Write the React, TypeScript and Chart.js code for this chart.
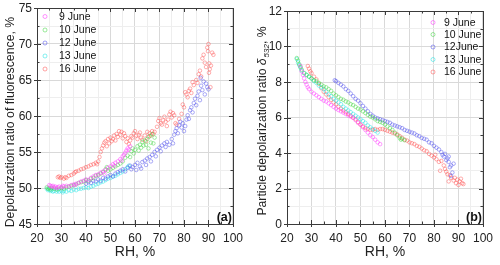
import React, { useEffect, useRef } from 'react';
import { Chart, registerables } from 'chart.js';

Chart.register(...registerables);

const FONT = '"Liberation Sans", Arial, Helvetica, sans-serif';

const seriesNamesA = ['9 June', '10 June', '12 June', '13 June', '16 June'];
const seriesNamesB = ['9 June', '10 June', '12June', '13 June', '16 June'];
const seriesColors = [
  'rgba(255, 70, 255, 0.65)',
  'rgba(70, 215, 70, 0.6)',
  'rgba(80, 80, 235, 0.6)',
  'rgba(50, 230, 230, 0.65)',
  'rgba(255, 85, 85, 0.6)',
];

const xTitle = 'RH, %';
const yTitleA = 'Depolarization ratio of fluorescence, %';
const yTitleB = ['Particle depolarization ratio ', 'δ', '532', ', %'];
const panelA = '(a)';
const panelB = '(b)';

// ---- Panel (a): fluorescence depolarization ratio vs RH ----
const fl9 = [[25,50.4],[25.5,50.3],[26,50.2],[26.5,50.3],[27,50.1],[27.5,50.2],[28,50.0],[28.5,50.1],[29,50.2],[30,50.1],[30.5,50.3],[31,50.2],[32,50.3],[33,50.2],[34,50.4],[35,50.5],[35.5,50.4],[36,50.6],[37,50.7],[38,50.9],[39,51.0],[40,51.2],[41,51.1],[42,51.4],[43,51.6],[44,51.8],[45,51.9],[46,52.1],[47,52.3],[47.5,52.0],[48,52.5],[49,52.8],[50,53.0],[51,53.3],[51.5,53.1],[52,53.5],[53,53.7],[54,54.0],[54.5,53.8],[55,54.4],[55.5,54.6],[56,54.9],[56.5,55.2],[57,55.5],[57.5,55.3],[58,55.8]];
const fl10 = [[24,50.1],[24.5,49.9],[25,50.0],[25.5,49.8],[26,50.0],[27,49.9],[28,49.8],[29,49.9],[30,50.0],[31,49.9],[32,50.1],[33,50.2],[34,50.3],[35,50.4],[36,50.5],[37,50.7],[38,50.8],[39,50.9],[40,51.1],[41,51.0],[42,51.3],[43,51.4],[44,51.7],[45,51.8],[46,52.0],[47,52.2],[48,52.6],[48.5,52.9],[49,52.4],[50,52.6],[51,52.8],[52,53.0],[53,53.2],[54,53.4],[55,53.7],[56,54.2],[57,54.5],[58,54.3],[58.5,55.1],[59,55.5],[59.5,54.8],[60,55.3],[61,55.8],[61.5,55.2],[62,56.0],[62.5,55.6],[63,56.4],[63.5,55.9],[64,56.6],[64.5,56.0],[65,56.8],[65.5,55.5],[66,57.2],[66.5,56.3],[67,57.5],[67.5,56.2],[68,57.0]];
const fl12 = [[40,50.6],[41,50.8],[42,50.7],[43,51.0],[44,50.9],[45,51.2],[46,51.0],[47,51.4],[48,51.3],[49,51.6],[50,51.8],[51,51.6],[52,52.0],[53,52.2],[54,52.4],[55,52.6],[56,52.3],[57,52.8],[58,53.1],[58.5,52.6],[59,52.9],[60,53.2],[60.5,52.5],[61,53.5],[62,53.0],[62.5,52.7],[63,53.6],[64,53.8],[64.5,53.2],[65,54.1],[66,54.3],[66.5,53.7],[67,54.6],[68,55.0],[68.5,54.4],[69,55.3],[70,55.6],[70.5,55.1],[71,55.9],[72,56.2],[72.5,55.7],[73,56.4],[74,56.0],[75,56.8],[75.5,56.2],[76,57.4],[76.5,57.9],[77,58.3],[77.5,57.6],[78,58.7],[78.5,59.2],[79,58.4],[79.5,59.0],[80,57.9],[80.5,58.6],[81,59.5],[81.5,60.1],[82,59.6],[82.5,60.8],[83,61.2],[83.5,60.5],[84,61.8],[84.5,62.4],[85,61.5],[85.5,62.8],[86,63.4],[86.5,62.2],[86.8,65.3],[87,64.2],[87.5,63.6],[88,64.8],[88.5,63.0],[89,64.5],[89.5,64.0],[90,63.7]];
const fl13 = [[24,49.9],[24.5,49.7],[25,49.8],[25.5,49.6],[26,49.7],[26.5,49.5],[27,49.6],[28,49.5],[28.5,49.7],[29,49.5],[30,49.6],[30.5,49.4],[31,49.6],[32,49.5],[33,49.7],[34,49.6],[35,49.8],[36,49.7],[37,49.9],[38,49.9],[39,50.0],[40,50.1],[41,50.0],[42,50.2],[43,50.3],[44,50.5],[45,50.6],[46,50.8],[47,50.9],[48,51.1],[49,51.3],[50,51.4],[51,51.6],[52,51.7],[53,51.9],[54,52.1],[55,52.3],[56,52.6],[57,52.9],[57.5,53.1]];
const fl16 = [[28.5,51.5],[29,51.6],[29.5,51.4],[30,51.5],[31,51.3],[31.5,51.5],[32,51.4],[33,51.7],[34,51.8],[35,52.0],[35.5,52.2],[36,52.3],[37,52.4],[38,52.6],[39,52.7],[40,52.9],[41,53.0],[42,53.2],[43,53.3],[44,53.5],[44.5,53.3],[45,53.7],[45.5,54.3],[46,55.0],[46.5,55.5],[47,55.9],[47.5,56.3],[48,56.5],[48.5,55.8],[49,56.8],[49.5,56.2],[50,57.0],[50.5,56.5],[51,56.8],[51.5,57.3],[52,56.6],[52.5,57.5],[53,57.1],[53.5,57.9],[54,57.4],[54.5,57.8],[55,56.9],[55.5,57.6],[56,57.2],[56.5,56.4],[57,56.9],[57.5,56.1],[58,56.6],[58.5,57.2],[59,57.0],[59.5,57.6],[60,57.9],[60.5,57.3],[61,56.8],[61.5,57.4],[62,57.7],[62.5,57.0],[63,56.7],[64,57.3],[64.5,56.5],[65,57.8],[65.5,57.1],[66,57.6],[66.5,57.3],[67,57.9],[67.5,57.5],[68,57.8],[69,58.5],[69.5,59.3],[70,59.7],[70.5,59.0],[71,58.8],[71.5,59.4],[72,59.9],[72.5,59.2],[73,58.6],[73.5,59.5],[74,60.2],[74.5,60.6],[75,59.8],[75.5,60.4],[76,60.1],[76.5,59.0],[77,58.8],[78,59.6],[79,60.3],[79.5,61.6],[80,61.2],[80.5,63.3],[81,63.0],[81.5,62.6],[82,63.5],[82.5,63.8],[83,63.2],[83.5,64.7],[84,64.3],[85,65.0],[85.5,64.6],[86,65.8],[86.5,66.3],[87,65.5],[87.5,68.0],[88,68.5],[88.5,67.4],[89,66.8],[89.5,69.5],[89.8,69.0],[90,70.0],[90.2,66.0],[90.3,67.3],[90.5,66.5],[90.8,64.0],[91,67.0],[91.5,68.8],[92,68.5]];

// ---- Panel (b): particle depolarization ratio vs RH ----
const pd9 = [[25.5,8.9],[26,8.6],[26.5,8.4],[27,8.2],[27.5,8.0],[28,7.85],[28.5,7.7],[29,7.6],[30,7.45],[31,7.35],[32,7.25],[33,7.15],[34,7.05],[35,6.95],[36,6.9],[37,6.8],[38,6.7],[39,6.6],[40,6.5],[41,6.42],[42,6.35],[43,6.28],[44,6.2],[45,6.12],[46,6.05],[47,5.98],[48,5.85],[49,5.7],[50,5.6],[51,5.45],[52,5.3],[53,5.15],[54,5.0],[55,4.9],[56,4.75],[57,4.6],[58,4.5]];
const pd10 = [[24,9.35],[24.5,9.2],[25,9.0],[25.5,8.85],[26,8.7],[27,8.5],[28,8.4],[29,8.3],[30,8.2],[31,8.1],[32,8.05],[33,7.95],[34,7.85],[35,7.75],[36,7.7],[37,7.6],[38,7.5],[39,7.35],[40,7.25],[41,7.15],[42,7.05],[43,7.0],[44,6.9],[45,6.85],[46,6.75],[47,6.7],[48,6.6],[49,6.5],[50,6.45],[51,6.35],[52,6.25],[53,6.15],[54,6.05],[55,6.0],[56,5.9],[57,5.8],[58,5.75],[59,5.7],[60,5.6],[61,5.5],[62,5.4],[63,5.3],[64,5.15],[65,5.0],[66,4.85],[66.5,4.75],[67,4.8],[68,4.72]];
const pd12 = [[39.5,8.1],[40,8.05],[41,7.95],[42,7.85],[43,7.75],[44,7.6],[45,7.5],[46,7.35],[47,7.2],[48,7.05],[49,6.95],[50,6.8],[51,6.65],[52,6.5],[53,6.35],[54,6.2],[55,6.1],[56,6.0],[57,5.95],[58,5.9],[59,5.85],[60,5.8],[61,5.75],[62,5.7],[63,5.6],[64,5.55],[65,5.5],[66,5.45],[67,5.4],[68,5.3],[69,5.25],[70,5.2],[71,5.15],[72,5.1],[73,5.0],[74,4.95],[75,4.85],[76,4.8],[77,4.75],[78,4.6],[79,4.55],[80,4.4],[81,4.3],[82,4.2],[83,4.05],[83.5,3.9],[84,3.8],[84.5,3.95],[85,3.6],[85.5,3.7],[86,3.5],[86,3.8],[86.5,3.2],[87,3.3],[87,2.7],[87.5,2.9],[88,3.4]];
const pd13 = [[24,9.3],[24.5,9.1],[25,8.95],[25.5,8.8],[26,8.65],[27,8.5],[28,8.4],[29,8.3],[30,8.2],[31,8.05],[32,7.95],[33,7.8],[34,7.7],[35,7.6],[36,7.45],[37,7.3],[38,7.2],[39,7.05],[40,6.95],[41,6.85],[42,6.75],[43,6.6],[44,6.5],[45,6.4],[46,6.3],[47,6.2],[48,6.1],[49,6.0],[50,5.9],[51,5.8],[52,5.7],[53,5.55],[54,5.45],[55,5.35],[56,5.25],[57,5.15]];
const pd16 = [[28.5,8.9],[29,8.75],[29.5,8.6],[30,8.5],[31,8.3],[32,8.15],[33,7.9],[34,7.65],[35,7.45],[36,7.3],[37,7.15],[38,7.0],[39,6.85],[40,6.75],[41,6.6],[42,6.5],[43,6.4],[44,6.3],[45,6.2],[46,6.1],[47,6.0],[48,5.9],[49,5.75],[50,5.6],[51,5.5],[52,5.4],[53,5.35],[54,5.3],[55,5.3],[56,5.35],[57,5.3],[58,5.35],[59,5.35],[60,5.3],[61,5.25],[62,5.2],[63,5.15],[64,5.1],[65,5.05],[66,4.95],[67,4.85],[68,4.75],[69,4.7],[70,4.6],[71,4.55],[72,4.5],[73,4.4],[74,4.35],[75,4.25],[76,4.15],[77,4.1],[78,3.95],[79,3.85],[80,3.75],[80.5,3.9],[81,3.65],[82,3.5],[82.5,3.0],[83,3.55],[84,3.3],[84.5,3.1],[85,2.95],[85.5,2.8],[86,2.4],[86.5,2.75],[87,2.6],[88,2.45],[88.5,2.6],[89,2.3],[89.5,2.5],[90,2.2],[90.5,2.4],[91,2.55],[91.5,2.3],[92,2.25]];

const xRange = [20, 100];
const yRangeA = [45, 75];
const yRangeB = [0, 12];

type PanelCfg = {
  series: number[][][];
  names: string[];
  yRange: number[];
  yMajor: number;
  yMinor: number;
  padTop: number;
  padRight: number;
  legendX: number;
  legendY: number[];
  legendTextX: number;
  yTitle: 'A' | 'B';
  yTitleX: number;
  yTitleY: number;
  panel: string;
};

function makeChart(canvas: HTMLCanvasElement, cfg: PanelCfg) {
  const isMajorX = (v: number) => Math.abs(v % 10) < 1e-6;
  const isMajorY = (v: number) => {
    const r = Math.abs((v - cfg.yRange[0]) % cfg.yMajor);
    return r < 1e-6 || Math.abs(r - cfg.yMajor) < 1e-6;
  };

  const decor = {
    id: 'decor',
    afterDraw(chart: any) {
      const ctx = chart.ctx as CanvasRenderingContext2D;
      const a = chart.chartArea;
      const xs = chart.scales.x;
      const ys = chart.scales.y;
      ctx.save();
      // frame
      ctx.strokeStyle = '#3a3a3a';
      ctx.lineWidth = 1;
      ctx.strokeRect(Math.round(a.left) + 0.5, Math.round(a.top) + 0.5, Math.round(a.right - a.left), Math.round(a.bottom - a.top));
      // ticks
      ctx.beginPath();
      for (let v = xRange[0]; v <= xRange[1] + 1e-6; v += 5) {
        const px = Math.round(xs.getPixelForValue(v)) + 0.5;
        const major = isMajorX(v);
        const len = major ? 4 : 2.5;
        ctx.moveTo(px, a.bottom);
        ctx.lineTo(px, a.bottom - len);
        ctx.moveTo(px, a.top);
        ctx.lineTo(px, a.top + len);
        if (major) {
          ctx.moveTo(px, a.bottom);
          ctx.lineTo(px, a.bottom + 3);
        }
      }
      for (let v = cfg.yRange[0]; v <= cfg.yRange[1] + 1e-6; v += cfg.yMinor) {
        const py = Math.round(ys.getPixelForValue(v)) + 0.5;
        const major = isMajorY(v);
        const len = major ? 4 : 2.5;
        ctx.moveTo(a.left, py);
        ctx.lineTo(a.left + len, py);
        ctx.moveTo(a.right, py);
        ctx.lineTo(a.right - len, py);
        if (major) {
          ctx.moveTo(a.left, py);
          ctx.lineTo(a.left - 3, py);
        }
      }
      ctx.stroke();

      // y tick labels (drawn here so the top one is never dropped)
      ctx.fillStyle = '#222';
      ctx.font = `12px ${FONT}`;
      ctx.textAlign = 'right';
      ctx.textBaseline = 'middle';
      for (let v = cfg.yRange[0]; v <= cfg.yRange[1] + 1e-6; v += cfg.yMajor) {
        ctx.fillText(String(Math.round(v * 10) / 10), a.left - 5, ys.getPixelForValue(v) + 0.5);
      }

      // x title
      ctx.font = `14px ${FONT}`;
      ctx.textAlign = 'center';
      ctx.fillText(xTitle, (a.left + a.right) / 2, 252);

      // y title
      ctx.save();
      ctx.translate(cfg.yTitleX, cfg.yTitleY);
      ctx.rotate(-Math.PI / 2);
      ctx.textBaseline = 'middle';
      if (cfg.yTitle === 'A') {
        ctx.font = `12.3px ${FONT}`;
        ctx.textAlign = 'center';
        ctx.fillText(yTitleA, 0, 0);
      } else {
        const fN = `12.2px ${FONT}`;
        const fI = `italic 12.2px ${FONT}`;
        const fS = `italic 8px ${FONT}`;
        ctx.font = fN; const w0 = ctx.measureText(yTitleB[0]).width;
        ctx.font = fI; const w1 = ctx.measureText(yTitleB[1]).width;
        ctx.font = fS; const w2 = ctx.measureText(yTitleB[2]).width;
        ctx.font = fN; const w3 = ctx.measureText(yTitleB[3]).width;
        let x = -(w0 + w1 + w2 + w3 + 1) / 2;
        ctx.textAlign = 'left';
        ctx.font = fN; ctx.fillText(yTitleB[0], x, 0); x += w0;
        ctx.font = fI; ctx.fillText(yTitleB[1], x, 0); x += w1 + 1;
        ctx.font = fS; ctx.fillText(yTitleB[2], x, 4); x += w2;
        ctx.font = fN; ctx.fillText(yTitleB[3], x, 0);
      }
      ctx.restore();

      // legend
      ctx.font = `10.5px ${FONT}`;
      ctx.textAlign = 'left';
      ctx.textBaseline = 'middle';
      cfg.names.forEach((n, i) => {
        const y = cfg.legendY[i];
        ctx.beginPath();
        ctx.strokeStyle = seriesColors[i];
        ctx.lineWidth = 0.9;
        ctx.arc(cfg.legendX, y, 2, 0, Math.PI * 2);
        ctx.stroke();
        ctx.fillStyle = '#111';
        ctx.fillText(n, cfg.legendTextX, y + 0.5);
      });

      // panel label
      ctx.font = `bold 12.5px ${FONT}`;
      ctx.textAlign = 'right';
      ctx.textBaseline = 'alphabetic';
      ctx.fillStyle = '#111';
      ctx.fillText(cfg.panel, a.right - 1, a.bottom - 3);
      ctx.restore();
    },
  };

  return new Chart(canvas, {
    type: 'scatter',
    data: {
      datasets: cfg.series.map((pts, i) => ({
        label: cfg.names[i],
        data: pts.map((p) => ({ x: p[0], y: p[1] })),
        borderColor: seriesColors[i],
        backgroundColor: 'rgba(0,0,0,0)',
        pointRadius: 1.8,
        pointBorderWidth: 0.8,
        pointHoverRadius: 1.8,
      })),
    },
    options: {
      animation: false,
      responsive: false,
      maintainAspectRatio: false,
      events: [],
      layout: { padding: { top: cfg.padTop, right: cfg.padRight, left: 0, bottom: 0 } },
      plugins: { legend: { display: false }, tooltip: { enabled: false }, title: { display: false } },
      scales: {
        x: {
          type: 'linear',
          min: xRange[0],
          max: xRange[1],
          afterFit: (s: any) => { s.height = 41; },
          border: { display: false },
          grid: {
            drawTicks: false,
            color: (c: any) => (isMajorX(c.tick.value) ? '#d9d9d9' : '#eeeeee'),
            lineWidth: 1,
          },
          ticks: {
            stepSize: 5,
            autoSkip: false,
            maxRotation: 0,
            padding: 7,
            color: '#222',
            font: { family: FONT, size: 12 },
            callback: (v: any) => (isMajorX(Number(v)) ? String(v) : ''),
          },
        },
        y: {
          type: 'linear',
          min: cfg.yRange[0],
          max: cfg.yRange[1],
          afterFit: (s: any) => { s.width = 37; },
          border: { display: false },
          grid: {
            drawTicks: false,
            color: (c: any) => (isMajorY(c.tick.value) ? '#d9d9d9' : '#eeeeee'),
            lineWidth: 1,
          },
          ticks: {
            stepSize: cfg.yMinor,
            autoSkip: false,
            padding: 7,
            display: false,
          },
        },
      },
    },
    plugins: [decor],
  } as any);
}

function Panel({ cfg, left }: { cfg: PanelCfg; left: number }) {
  const ref = useRef<HTMLCanvasElement | null>(null);
  useEffect(() => {
    if (!ref.current) return;
    const chart = makeChart(ref.current, cfg);
    return () => chart.destroy();
  }, []);
  return (
    <canvas
      ref={ref}
      width={250}
      height={265}
      style={{ position: 'absolute', left, top: 0, width: 250, height: 265 }}
    />
  );
}

const cfgA: PanelCfg = {
  series: [fl9, fl10, fl12, fl13, fl16],
  names: seriesNamesA,
  yRange: yRangeA,
  yMajor: 5,
  yMinor: 2.5,
  padTop: 8,
  padRight: 8,
  legendX: 45,
  legendY: [16.5, 30, 43, 56, 69],
  legendTextX: 59,
  yTitle: 'A',
  yTitleX: 11,
  yTitleY: 122,
  panel: panelA,
};

const cfgB: PanelCfg = {
  series: [pd9, pd10, pd12, pd13, pd16],
  names: seriesNamesB,
  yRange: yRangeB,
  yMajor: 2,
  yMinor: 1,
  padTop: 11,
  padRight: 12,
  legendX: 183,
  legendY: [22.5, 34.5, 47, 59.5, 72],
  legendTextX: 194,
  yTitle: 'B',
  yTitleX: 13,
  yTitleY: 121,
  panel: panelB,
};

export default function App() {
  return (
    <div style={{ position: 'fixed', left: 0, top: 0, width: 500, height: 265, background: '#fff' }}>
      <Panel cfg={cfgA} left={0} />
      <Panel cfg={cfgB} left={250} />
    </div>
  );
}
